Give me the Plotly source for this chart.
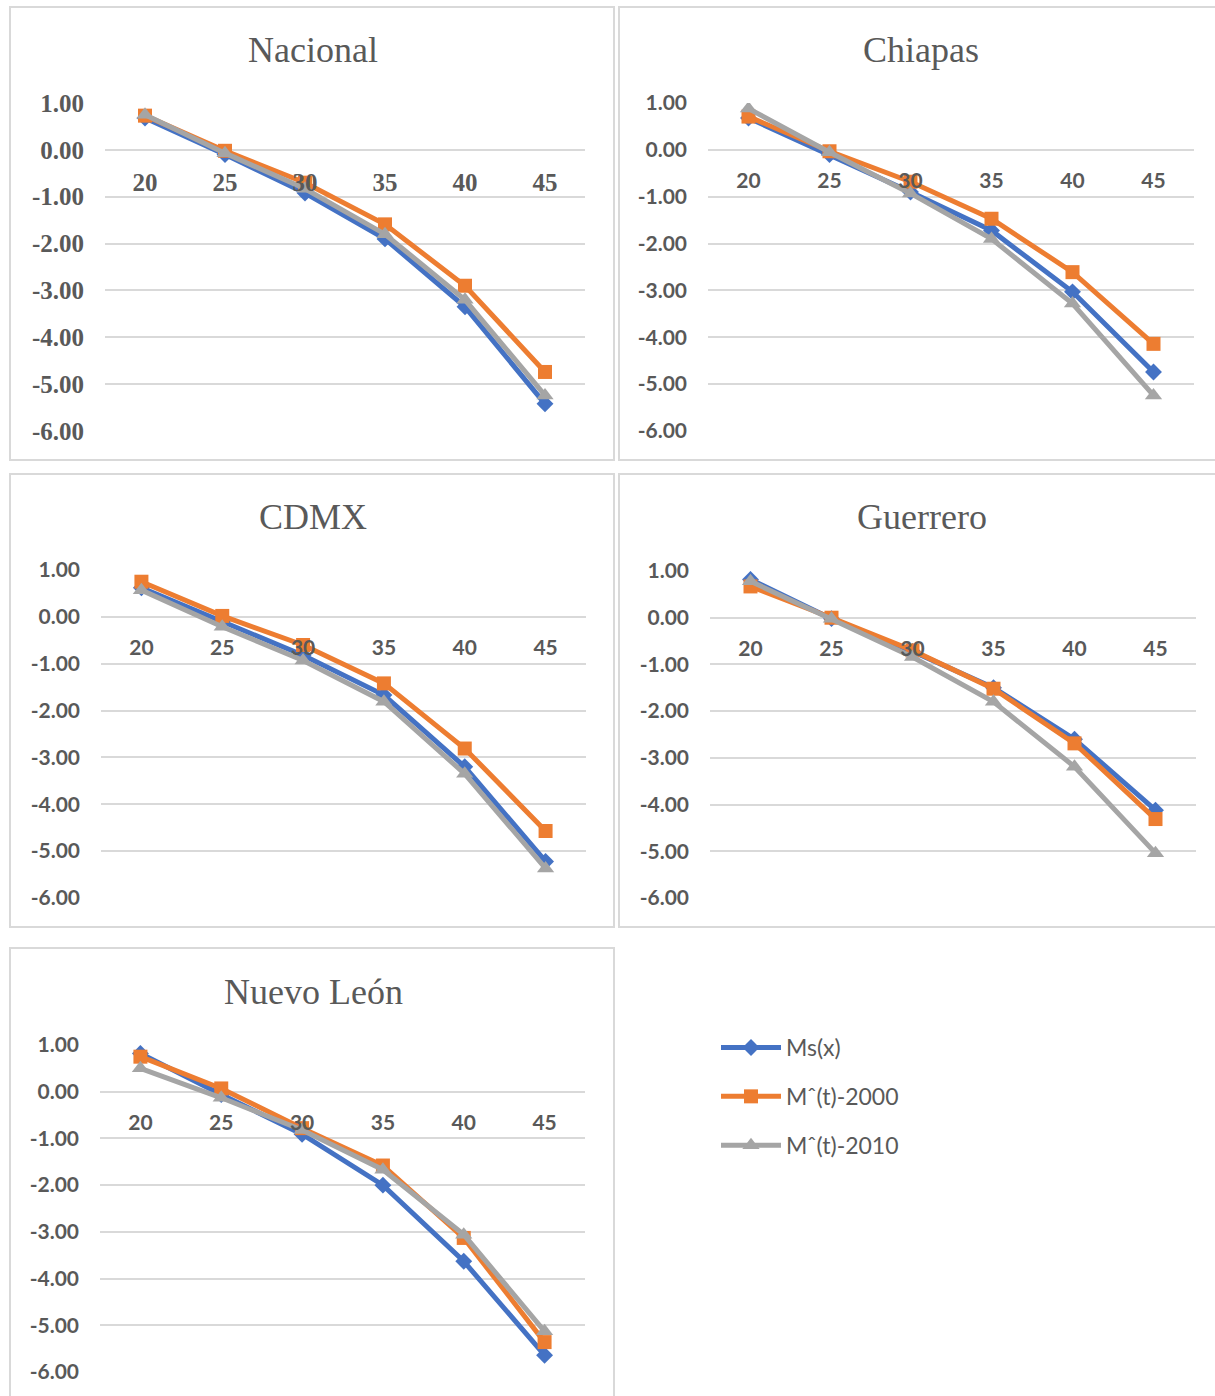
import plotly.graph_objects as go

W, H = 1215, 1396

ages = ["20", "25", "30", "35", "40", "45"]
series_names = ["Ms(x)", "Mˆ(t)-2000", "Mˆ(t)-2010"]
panel_titles = ["Nacional", "Chiapas", "CDMX", "Guerrero", "Nuevo León"]
y_tick_values = [1, 0, -1, -2, -3, -4, -5, -6]
y_tick_labels = ["1.00", "0.00", "-1.00", "-2.00", "-3.00", "-4.00", "-5.00", "-6.00"]

nacional_ms   = [0.68, -0.10, -0.92, -1.90, -3.35, -5.42]
nacional_2000 = [0.73, -0.02, -0.70, -1.59, -2.90, -4.74]
nacional_2010 = [0.75, -0.07, -0.83, -1.80, -3.20, -5.24]

chiapas_ms   = [0.68, -0.10, -0.90, -1.72, -3.03, -4.74]
chiapas_2000 = [0.71, -0.03, -0.68, -1.47, -2.61, -4.14]
chiapas_2010 = [0.88, -0.05, -0.93, -1.90, -3.28, -5.24]

cdmx_ms   = [0.62, -0.10, -0.82, -1.67, -3.20, -5.22]
cdmx_2000 = [0.75, 0.02, -0.60, -1.42, -2.81, -4.57]
cdmx_2010 = [0.57, -0.21, -0.93, -1.81, -3.35, -5.37]

guerrero_ms   = [0.82, -0.02, -0.72, -1.50, -2.60, -4.12]
guerrero_2000 = [0.67, 0.00, -0.70, -1.52, -2.69, -4.31]
guerrero_2010 = [0.78, -0.02, -0.84, -1.80, -3.19, -5.04]

nuevo_leon_ms   = [0.82, -0.06, -0.91, -2.00, -3.63, -5.64]
nuevo_leon_2000 = [0.75, 0.07, -0.78, -1.58, -3.13, -5.36]
nuevo_leon_2010 = [0.50, -0.13, -0.82, -1.67, -3.06, -5.13]

panel_data = [
    [nacional_ms, nacional_2000, nacional_2010],
    [chiapas_ms, chiapas_2000, chiapas_2010],
    [cdmx_ms, cdmx_2000, cdmx_2010],
    [guerrero_ms, guerrero_2000, guerrero_2010],
    [nuevo_leon_ms, nuevo_leon_2000, nuevo_leon_2010],
]

# layout (pixels)
plot_boxes = [  # x0, x1, y_top(1.00), y_bottom(-6.00)
    (105, 585, 103, 431),
    (708, 1194, 103, 431),
    (101, 586, 570, 898),
    (710, 1196, 571, 898),
    (100, 585, 1045, 1372),
]
frames = [  # x0, y0, x1, y1
    (10, 7, 614, 460),
    (619, 7, 1222, 460),
    (10, 474, 614, 927),
    (619, 474, 1222, 927),
    (10, 948, 614, 1402),
]
title_pos = [(313, 50), (921, 50), (313, 517), (922, 517), (313, 992)]

colors = ["#4472C4", "#ED7D31", "#A5A5A5"]
symbols = ["diamond", "square", "triangle-up"]
msizes = [13, 14, 15]
GRAY = "#595959"
GRID = "#D9D9D9"

serif = "Liberation Serif, Times New Roman, serif"
sans = "Lato, Carlito, Calibri, sans-serif"

fig = go.Figure()
layout = {}
annotations = []
shapes = []

for p in range(5):
    sfx = "" if p == 0 else str(p + 1)
    xa, ya = "x" + sfx, "y" + sfx
    x0, x1, yt, yb = plot_boxes[p]
    ydom = [1 - yb / H, 1 - yt / H]
    y0px = yt + (yb - yt) / 7.0
    tickfont_family = serif if p == 0 else sans
    tsize = 25 if p == 0 else 21
    for s in range(3):
        fig.add_trace(go.Scatter(
            x=ages, y=panel_data[p][s], name=series_names[s],
            xaxis=xa, yaxis=ya, mode="lines+markers",
            line=dict(color=colors[s], width=5),
            marker=dict(symbol=symbols[s], size=msizes[s], color=colors[s],
                        line=dict(width=0)),
            showlegend=(p == 0), legendgroup="g%d" % s,
        ))
    layout["xaxis" + sfx] = dict(
        domain=[x0 / W, x1 / W], type="category", range=[-0.5, 5.5],
        anchor="free", position=1 - y0px / H,
        showgrid=False, zeroline=False, showline=False,
        ticks="", ticklabelstandoff=15 if p == 0 else 16,
        tickfont=dict(family=tickfont_family, size=tsize, color=GRAY, weight="bold"),
        fixedrange=True, automargin=False,
    )
    layout["yaxis" + sfx] = dict(
        domain=ydom, anchor=xa, range=[-6, 1],
        tickmode="array", tickvals=y_tick_values, ticktext=y_tick_labels,
        showgrid=True, gridcolor=GRID, gridwidth=1.5,
        zeroline=False, showline=False, ticks="", ticklabelstandoff=20,
        tickfont=dict(family=tickfont_family, size=tsize, color=GRAY, weight="bold"),
        fixedrange=True, automargin=False,
    )
    tx, ty = title_pos[p]
    annotations.append(dict(
        text=panel_titles[p], x=tx / W, y=1 - ty / H, xref="paper", yref="paper",
        showarrow=False, xanchor="center", yanchor="middle",
        font=dict(family=serif, size=36, color=GRAY),
    ))
    fx0, fy0, fx1, fy1 = frames[p]
    shapes.append(dict(
        type="rect", xref="paper", yref="paper",
        x0=fx0 / W, x1=fx1 / W, y0=1 - fy1 / H, y1=1 - fy0 / H,
        line=dict(color=GRID, width=2), fillcolor="rgba(0,0,0,0)", layer="below",
    ))

fig.update_layout(
    **layout,
    width=W, height=H, autosize=False,
    margin=dict(l=0, r=0, t=0, b=0, pad=0, autoexpand=False),
    paper_bgcolor="white", plot_bgcolor="white",
    annotations=annotations, shapes=shapes,
    legend=dict(
        x=716 / W, y=1 - 1026 / H, xanchor="left", yanchor="top",
        font=dict(family=sans, size=23, color=GRAY),
        bgcolor="rgba(0,0,0,0)", tracegroupgap=16, itemwidth=60,
    ),
    showlegend=True,
)

fig.write_html("out.html")
